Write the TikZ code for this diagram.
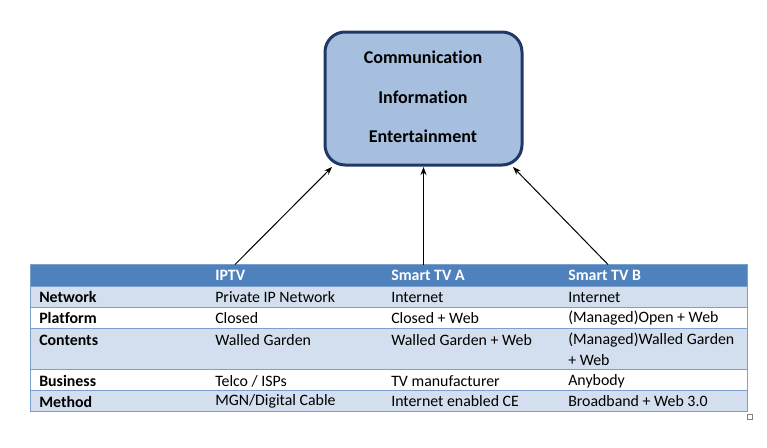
\documentclass[tikz,border=0pt]{standalone}
\usepackage{fontspec}
\setmainfont{Carlito}[Ligatures={NoCommon}]
\usetikzlibrary{arrows.meta}
\definecolor{hdr}{HTML}{4F81BD}
\definecolor{band}{HTML}{D3DFEE}
\definecolor{rule}{HTML}{7BA0CD}
\definecolor{hubfill}{HTML}{A7BFDE}
\definecolor{hubline}{HTML}{1F3864}
\tikzset{
  hubbox/.style={draw=hubline, line width=2.25pt, fill=hubfill, rounded corners=15pt,
    minimum width=147.75pt, minimum height=99.75pt, inner sep=0pt},
  hubtxt/.style={font=\fontsize{13.5pt}{16pt}\selectfont\bfseries, inner sep=0pt},
  cell/.style={anchor=west, inner sep=0pt, font=\fontsize{11.9pt}{15pt}\selectfont},
  rowhead/.style={cell, font=\fontsize{11.9pt}{15pt}\selectfont\bfseries},
  colhead/.style={cell, text=white, font=\fontsize{11.9pt}{15pt}\selectfont\bfseries},
  link/.style={line width=0.75pt, -{Stealth[length=6pt,width=4.5pt]}},
}
\begin{document}
\begin{tikzpicture}[x=0.75pt,y=-0.75pt]
\useasboundingbox (0,0) rectangle (767,447);
% hub box
\node[hubbox] (hub) at (423.5,98.5) {};
\node[hubtxt] (t1) at (423,57) {Communication};
\node[hubtxt] (t2) at (423,97) {Information};
\node[hubtxt] (t3) at (423,136) {Entertainment};
% table fills
\fill[hdr] (30,264.5) rectangle (747,286);
\fill[band] (30,286) rectangle (747,307);
\fill[band] (30,328) rectangle (747,369);
\fill[band] (30,390) rectangle (747,411);
\draw[rule, line width=0.75pt] (30,286) -- (747,286) (30,307) -- (747,307)
  (30,328) -- (747,328) (30,369) -- (747,369) (30,390) -- (747,390);
\draw[rule, line width=0.75pt] (30,264.5) rectangle (747,411);
% header
\node[colhead] (hA) at (215,275.5) {IPTV};
\node[colhead] (hB) at (391,275.5) {Smart TV A};
\node[colhead] (hC) at (568,275.5) {Smart TV B};
% rows
\node[rowhead] (r1) at (39,297) {Network};
\node[cell] (r1a) at (215,297) {Private IP Network};
\node[cell] (r1b) at (391,297) {Internet};
\node[cell] (r1c) at (568,297) {Internet};
\node[rowhead] (r2) at (39,318) {Platform};
\node[cell] (r2a) at (215,318) {Closed};
\node[cell] (r2b) at (391,318) {Closed + Web};
\node[cell] (r2c) at (568,318) {(Managed)Open + Web};
\node[rowhead] (r3) at (39,340) {Contents};
\node[cell] (r3a) at (215,340) {Walled Garden};
\node[cell] (r3b) at (391,340) {Walled Garden + Web};
\node[cell] (r3c) at (568,340) {(Managed)Walled Garden};
\node[cell] (r3d) at (568,360) {+ Web};
\node[rowhead] (r4) at (39,381) {Business};
\node[cell] (r4a) at (215,381) {Telco / ISPs};
\node[cell] (r4b) at (391,381) {TV manufacturer};
\node[cell] (r4c) at (568,381) {Anybody};
\node[rowhead] (r5) at (39,401.5) {Method};
\node[cell] (r5a) at (215,401.5) {MGN/Digital Cable};
\node[cell] (r5b) at (391,401.5) {Internet enabled CE};
\node[cell] (r5c) at (568,401.5) {Broadband + Web 3.0};
% small square
\draw[gray, line width=0.6pt] (747,414) rectangle (752,419);
% arrows
\coordinate (s1) at (235,264.5);
\coordinate (s2) at (423.5,264.5);
\coordinate (s3) at (608,264.5);
\coordinate (e1) at (332,167);
\coordinate (e2) at (423.5,167);
\coordinate (e3) at (513,167);
\draw[link] (s1) -- (e1);
\draw[link] (s2) -- (e2);
\draw[link] (s3) -- (e3);
\end{tikzpicture}
\end{document}
